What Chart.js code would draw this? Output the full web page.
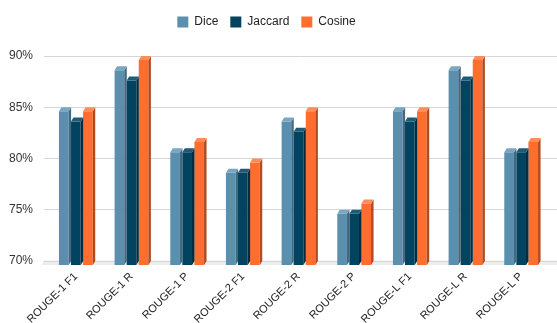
<!DOCTYPE html>
<html>
<head>
<meta charset="utf-8">
<script src="https://cdn.jsdelivr.net/npm/chart.js@4"></script>
<style>
  html, body { margin: 0; padding: 0; background: #fff; }
  #wrap { width: 557px; height: 323px; }
</style>
</head>
<body>
<div id="wrap"><canvas id="c" width="557" height="323"></canvas></div>
<script>
const categories = ['ROUGE-1 F1', 'ROUGE-1 R', 'ROUGE-1 P', 'ROUGE-2 F1', 'ROUGE-2 R', 'ROUGE-2 P', 'ROUGE-L F1', 'ROUGE-L R', 'ROUGE-L P'];
const seriesNames = ['Dice', 'Jaccard', 'Cosine'];
const dice    = [85, 89, 81, 79, 84, 75, 85, 89, 81];
const jaccard = [84, 88, 81, 79, 83, 75, 84, 88, 81];
const cosine  = [85, 90, 82, 80, 85, 76, 85, 90, 82];
const yTicks  = [70, 75, 80, 85, 90];

const frontColors = ['#5b8fae', '#02435f', '#ff6d2f'];
const sideColors  = ['#42697f', '#012d41', '#b24a1e'];
const topColors   = ['#79a6c2', '#1f5a76', '#ff8d5c'];

const DX = 2.5, DY = 4;

const depthPlugin = {
  id: 'depth3d',
  beforeLayout(chart) {
    const lg = chart.legend;
    if (lg && !lg._patched) {
      const f = lg.fit.bind(lg);
      lg.fit = function () { f(); this.height = 56; };
      lg._patched = true;
    }
  },
  afterLayout(chart) {
    if (chart.legend) chart.legend.right = chart.legend.right - 16;
  },
  beforeDatasetsDraw(chart) {
    const ctx = chart.ctx;
    const y = chart.scales.y;
    const W = chart.width;
    ctx.save();
    const yb = y.getPixelForValue(yTicks[0]);
    ctx.fillStyle = '#ededed';
    ctx.beginPath();
    ctx.moveTo(44, yb - DY - 0.5);
    ctx.lineTo(W, yb - DY - 0.5);
    ctx.lineTo(W, yb);
    ctx.lineTo(44 - DX, yb);
    ctx.closePath();
    ctx.fill();
    ctx.strokeStyle = '#d6d6d6';
    ctx.lineWidth = 1;
    yTicks.forEach(v => {
      const py = Math.round(y.getPixelForValue(v) - DY - 0.5) + 0.5;
      ctx.beginPath();
      ctx.moveTo(44, py);
      ctx.lineTo(W, py);
      ctx.stroke();
    });
    ctx.restore();
  },
  afterDatasetsDraw(chart) {
    const ctx = chart.ctx;
    const bottom = chart.chartArea.bottom;
    ctx.save();
    chart.data.datasets.forEach((ds, di) => {
      const meta = chart.getDatasetMeta(di);
      meta.data.forEach(bar => {
        const p = bar.getProps(['x', 'y', 'base', 'width'], true);
        const l = p.x - p.width / 2, r = p.x + p.width / 2;
        const t = p.y, b = Math.min(p.base, bottom);
        ctx.fillStyle = sideColors[di];
        ctx.beginPath();
        ctx.moveTo(r, t);
        ctx.lineTo(r + DX, t - DY);
        ctx.lineTo(r + DX, b - DY);
        ctx.lineTo(r, b);
        ctx.closePath();
        ctx.fill();
        ctx.fillStyle = topColors[di];
        ctx.beginPath();
        ctx.moveTo(l, t);
        ctx.lineTo(l + DX, t - DY);
        ctx.lineTo(r + DX, t - DY);
        ctx.lineTo(r, t);
        ctx.closePath();
        ctx.fill();
      });
    });
    ctx.restore();
  }
};

const seriesData = [dice, jaccard, cosine];

new Chart(document.getElementById('c'), {
  type: 'bar',
  data: {
    labels: categories,
    datasets: seriesNames.map((n, i) => ({
      label: n,
      data: seriesData[i],
      backgroundColor: frontColors[i],
      borderWidth: 0,
      categoryPercentage: 0.65,
      barPercentage: 0.8
    }))
  },
  options: {
    responsive: false,
    animation: false,
    devicePixelRatio: 1,
    layout: { padding: { left: 0, right: 8, top: 4, bottom: 0 } },
    plugins: {
      legend: {
        position: 'top',
        labels: {
          boxWidth: 11,
          boxHeight: 11,
          padding: 12,
          color: '#222',
          font: { family: '"Liberation Sans", Arial, sans-serif', size: 12 }
        }
      },
      tooltip: { enabled: false }
    },
    scales: {
      x: {
        grid: { display: false, drawTicks: false },
        border: { display: false },
        afterFit(s) { s.height = 58; },
        ticks: {
          autoSkip: false,
          maxRotation: 45,
          minRotation: 45,
          padding: 5,
          color: '#222',
          font: { family: '"Liberation Sans", Arial, sans-serif', size: 11 }
        }
      },
      y: {
        min: 70,
        max: 90,
        grid: { display: false, drawTicks: false },
        border: { display: false },
        afterFit(s) { s.width = 48; },
        afterBuildTicks(s) { s.ticks = yTicks.map(v => ({ value: v })); },
        ticks: {
          padding: 15,
          labelOffset: -DY,
          color: '#333',
          font: { family: '"Liberation Sans", Arial, sans-serif', size: 12 },
          callback: v => v + '%'
        }
      }
    }
  },
  plugins: [depthPlugin]
});
</script>
</body>
</html>
